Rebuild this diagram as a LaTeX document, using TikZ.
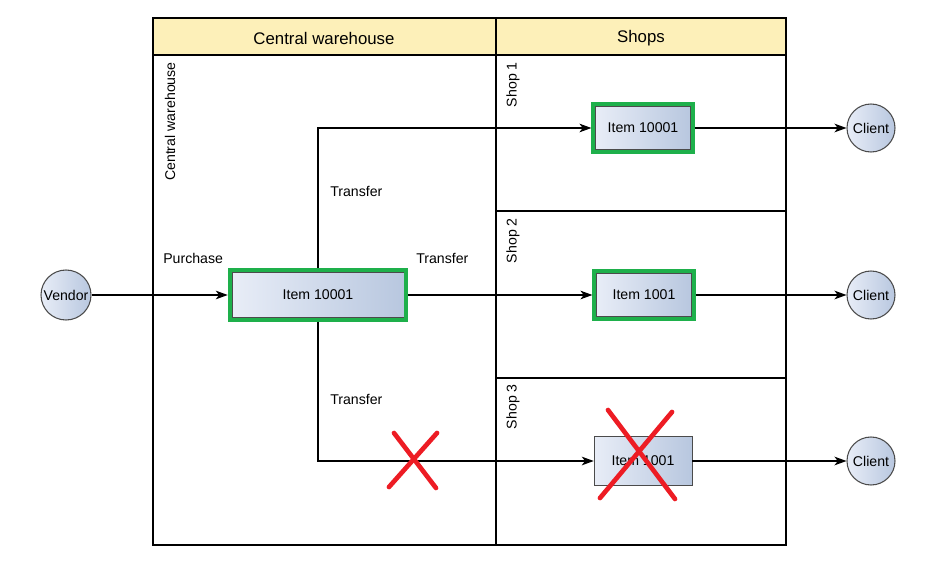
\documentclass[tikz,border=0pt]{standalone}
\usepackage{fontspec}
\setmainfont{Liberation Sans}
\usetikzlibrary{arrows.meta, positioning, fit}
\definecolor{laneyellow}{RGB}{253,240,185}
\definecolor{itemlight}{RGB}{232,237,247}
\definecolor{itemdark}{RGB}{184,199,223}
\definecolor{rimgray}{RGB}{75,75,75}
\definecolor{okgreen}{RGB}{30,176,75}
\definecolor{failred}{RGB}{237,28,36}

\begin{document}
\begin{tikzpicture}[
    x=0.75pt, y=-0.75pt,
    lane/.style={draw=black, line width=0.8pt},
    header/.style={font=\fontsize{12.6}{15}\selectfont},
    item/.style={
        rectangle,
        draw=rimgray,
        left color=itemlight,
        right color=itemdark,
        inner sep=0pt,
        font=\fontsize{10.6}{13}\selectfont
    },
    okframe/.style={draw=okgreen, line width=3pt, inner sep=1.5pt},
    party/.style={
        circle,
        draw=rimgray,
        thick,
        left color=itemlight,
        right color=itemdark,
        inner sep=0pt,
        font=\fontsize{10.6}{13}\selectfont
    },
    lanelabel/.style={rotate=90, anchor=east, inner sep=0pt, font=\fontsize{10.6}{13}\selectfont},
    flowlabel/.style={anchor=west, inner sep=0pt, font=\fontsize{10.6}{13}\selectfont},
    arrow/.style={-{Stealth[length=9pt, width=6.5pt, inset=2.5pt]}, line width=0.9pt},
    cross/.style={draw=failred, line width=3.5pt, line cap=round}
]
\useasboundingbox (0,0) rectangle (939,564);

% pool and lanes
\fill[laneyellow] (153,18) rectangle (786,55);
\draw[lane] (153,18) rectangle (786,545);
\draw[lane] (153,55) -- (786,55);
\draw[lane] (496,18) -- (496,545);
\draw[lane] (496,211) -- (786,211);
\draw[lane] (496,378) -- (786,378);
\node[header] (hdWh) at (324,38) {Central warehouse};
\node[header] (hdShops) at (641,38) {Shops};
\node[lanelabel] (lnWh) at (170,62) {Central warehouse};
\node[lanelabel] (lnShop1) at (513,62) {Shop 1};
\node[lanelabel] (lnShop2) at (513,218) {Shop 2};
\node[lanelabel] (lnShop3) at (513,384) {Shop 3};

% warehouse
\node[party, minimum size=37.5pt] (vendor) at (66,295) {Vendor};
\node[item, minimum width=129pt, minimum height=33.75pt] (whItem) at (318,295) {Item 10001};
\node[okframe, fit=(whItem)] (whFrame) {};
\node[flowlabel] (lblPurchase) at (163,258) {Purchase};
\node[flowlabel] (lblTrUp) at (330,191) {Transfer};
\node[flowlabel] (lblTrMid) at (416,258) {Transfer};
\node[flowlabel] (lblTrLow) at (330,399) {Transfer};

% shops
\node[item, minimum width=71pt, minimum height=32pt] (s1Item) at (643,128) {Item 10001};
\node[okframe, fit=(s1Item)] (s1Frame) {};
\node[item, minimum width=71pt, minimum height=32pt] (s2Item) at (644,295) {Item 1001};
\node[okframe, fit=(s2Item)] (s2Frame) {};
\node[item, minimum width=73.5pt, minimum height=36.75pt] (s3Item) at (643,461) {Item 1001};

% clients
\node[party, minimum size=36pt] (client1) at (871,128) {Client};
\node[party, minimum size=36pt] (client2) at (871,295) {Client};
\node[party, minimum size=36pt] (client3) at (871,461) {Client};

% flows
\draw[arrow] (vendor) -- (whFrame);
\draw[arrow] (whFrame.east) -- (s2Frame.west);
\draw[arrow] (whFrame.north) |- (s1Frame.west);
\draw[arrow] (whFrame.south) |- (s3Item.west);
\draw[arrow] (s1Frame) -- (client1);
\draw[arrow] (s2Frame) -- (client2);
\draw[arrow] (s3Item) -- (client3);

% failed transfer
\draw[cross] (394,433) -- (436,488);
\draw[cross] (437,433) -- (389,487);
\draw[cross] (608,410) -- (675,499);
\draw[cross] (672,412) -- (600,498);

\end{tikzpicture}
\end{document}
